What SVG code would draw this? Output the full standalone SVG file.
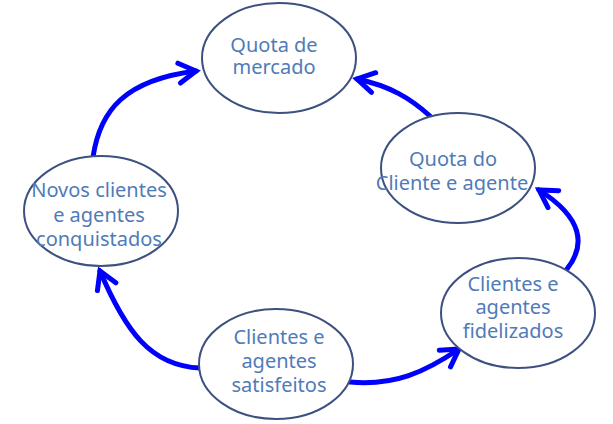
<svg xmlns="http://www.w3.org/2000/svg" width="613" height="424" viewBox="0 0 613 424">
<style>
.node ellipse{fill:#ffffff;stroke:#3d5080;stroke-width:2}
.node text{font-family:"Noto Sans","DejaVu Sans",sans-serif;font-size:20px;fill:#4f7bb8;text-anchor:middle}
.conn path{fill:none;stroke:#0000ff;stroke-width:5;stroke-linecap:round}
</style>
<defs>
<marker id="arr" markerUnits="userSpaceOnUse" markerWidth="30" markerHeight="30" viewBox="-20 -15 30 30" refX="0" refY="0" orient="auto">
<path d="M-17,-10 L0,0 L-17,10" fill="none" stroke="#0000ff" stroke-width="5" stroke-linecap="round" stroke-linejoin="miter"/>
</marker>
</defs>
<rect width="613" height="424" fill="#ffffff"/>
<g class="conn" id="connectors">
<path d="M93,157 C100,110 125,80 196,71" marker-end="url(#arr)"/>
<path d="M430,116 C410,98 390,86 357,79" marker-end="url(#arr)"/>
<path d="M567,269 C586,245 583,218 539,190" marker-end="url(#arr)"/>
<path d="M200,368 C150,366 125,330 100,271" marker-end="url(#arr)"/>
<path d="M350,382 C395,386 425,372 459,349" marker-end="url(#arr)"/>
</g>
<g class="node" id="quota-mercado">
<ellipse cx="279" cy="58" rx="77" ry="55"/>
<text x="274" y="52">Quota de</text>
<text x="274" y="74">mercado</text>
</g>
<g class="node" id="quota-cliente">
<ellipse cx="458" cy="168" rx="77" ry="55"/>
<text x="453" y="166">Quota do</text>
<text x="452" y="190">Cliente e agente</text>
</g>
<g class="node" id="fidelizados">
<ellipse cx="518" cy="313" rx="77" ry="55"/>
<text x="513" y="291">Clientes e</text>
<text x="513" y="314">agentes</text>
<text x="513" y="338">fidelizados</text>
</g>
<g class="node" id="novos">
<ellipse cx="101" cy="211" rx="77" ry="55"/>
<text x="99" y="197">Novos clientes</text>
<text x="99" y="222">e agentes</text>
<text x="99" y="246">conquistados</text>
</g>
<g class="node" id="satisfeitos">
<ellipse cx="276" cy="364" rx="77" ry="55"/>
<text x="279" y="344">Clientes e</text>
<text x="279" y="368">agentes</text>
<text x="279" y="392">satisfeitos</text>
</g>
</svg>
